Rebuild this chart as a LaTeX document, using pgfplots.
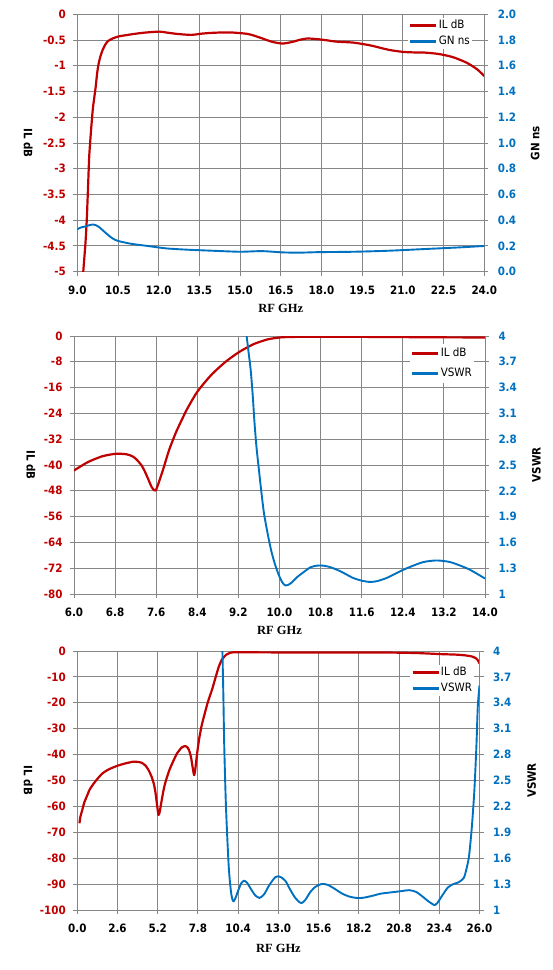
\documentclass[border=0pt]{standalone}
\usepackage{fontspec}
\setmainfont{DejaVu Sans Condensed}
\newfontfamily\rffont{Liberation Serif}
\usepackage{pgfplots}
\pgfplotsset{compat=1.18}
\definecolor{ilred}{HTML}{C00000}
\definecolor{gnblue}{HTML}{0070C0}
\definecolor{gridgray}{HTML}{868686}
\newcommand\fs{\fontsize{11.5}{13}\selectfont}
\pgfplotsset{
  base/.style={scale only axis, anchor=south west,
    axis line style={gridgray, line width=1pt},
    tick style={gridgray, line width=1pt},
    major tick length=4pt, tick align=outside,
    grid style={gridgray, line width=1pt},
    ticklabel style={font=\fs\bfseries},
    label style={font=\fs\bfseries},
  },
  leftax/.style={base, axis x line*=bottom, axis y line*=left, grid=major,
    yticklabel style={ilred, xshift=-4pt},
    xticklabel style={black, yshift=-6.5pt},
    xlabel={RF GHz}, ylabel={IL dB},
    xlabel style={font=\rffont\fontsize{12.5}{14}\selectfont\bfseries, anchor=center},
  },
  rightax/.style={base, axis x line=none, axis y line*=right,
    yticklabel style={gnblue, xshift=6pt},
    legend style={draw=none, fill=white, inner sep=1pt, anchor=north west,
      font=\fs, cells={anchor=west}, row sep=3pt},
    legend image code/.code={\draw[##1, line width=2.6pt] (0pt,0pt) -- (26pt,0pt);},
  },
  ilstyle/.style={ilred, line width=2.2pt, line join=round, smooth, tension=0.4},
  gnstyle/.style={gnblue, line width=1.9pt, line join=round, smooth, tension=0.4},
}
\begin{document}
\begin{tikzpicture}
\path[use as bounding box] (0,0) rectangle (553pt,-970pt);
% ---------- Panel 1 ----------
\begin{axis}[leftax, at={(77.3pt,-271.7pt)}, width=407pt, height=257.4pt,
  xmin=9, xmax=24, ymin=-5, ymax=0,
  xtick={9,10.5,12,13.5,15,16.5,18,19.5,21,22.5,24},
  xticklabels={9.0,10.5,12.0,13.5,15.0,16.5,18.0,19.5,21.0,22.5,24.0},
  ytick={-5,-4.5,-4,-3.5,-3,-2.5,-2,-1.5,-1,-0.5,0},
  yticklabels={-5,-4.5,-4,-3.5,-3,-2.5,-2,-1.5,-1,-0.5,0},
  xlabel style={at={(axis description cs:0.5,-0.144)}},
  ylabel style={at={(axis description cs:-0.121,0.5)}, anchor=center, rotate=180},
]
\addplot[ilstyle] coordinates {(9.20,-5.3) (9.22,-5.0) (9.30,-4.45) (9.35,-3.98) (9.40,-3.3) (9.44,-2.75) (9.50,-2.3) (9.57,-1.85) (9.63,-1.6) (9.68,-1.40) (9.73,-1.15) (9.78,-0.975) (9.85,-0.82) (9.94,-0.685) (10.03,-0.59) (10.13,-0.52) (10.3,-0.47) (10.52,-0.43) (10.8,-0.405) (11.11,-0.38) (11.5,-0.355) (12.02,-0.336) (12.3,-0.355) (12.67,-0.38) (13.19,-0.40) (13.6,-0.375) (13.97,-0.36) (14.4,-0.352) (14.75,-0.355) (15.27,-0.38) (15.55,-0.42) (15.80,-0.465) (16.19,-0.536) (16.58,-0.568) (16.97,-0.53) (17.2,-0.495) (17.49,-0.47) (17.88,-0.484) (18.2,-0.505) (18.53,-0.53) (19.18,-0.55) (19.83,-0.607) (20.48,-0.69) (21.0,-0.73) (21.4,-0.74) (21.79,-0.743) (22.31,-0.77) (22.83,-0.83) (23.35,-0.94) (23.74,-1.07) (24.0,-1.20)};
\end{axis}
\begin{axis}[rightax, at={(77.3pt,-271.7pt)}, width=407pt, height=257.4pt,
  xmin=9, xmax=24, ymin=0, ymax=2,
  ytick={0,0.2,0.4,0.6,0.8,1,1.2,1.4,1.6,1.8,2},
  yticklabels={0.0,0.2,0.4,0.6,0.8,1.0,1.2,1.4,1.6,1.8,2.0},
  ylabel={GN ns},
  ylabel style={at={(axis description cs:1.125,0.5)}, anchor=center},
  legend style={at={(axis description cs:0.8125,0.986)},
    nodes={inner sep=1pt, text height=8.5pt, text depth=2.5pt}},
]
\addlegendimage{ilred}
\addlegendentry{IL dB}
\addplot[gnstyle] coordinates {(9.0,0.33) (9.15,0.345) (9.29,0.351) (9.45,0.362) (9.57,0.367) (9.7,0.36) (9.81,0.346) (10.0,0.31) (10.2,0.274) (10.35,0.252) (10.52,0.238) (10.98,0.217) (11.63,0.199) (12.28,0.181) (13.06,0.171) (13.97,0.163) (15.0,0.155) (15.8,0.160) (16.58,0.150) (17.2,0.148) (17.88,0.152) (19.18,0.155) (20.48,0.163) (21.79,0.176) (23.09,0.189) (24.0,0.2)};
\addlegendentry{GN ns}
\end{axis}
% ---------- Panel 2 ----------
\begin{axis}[leftax, at={(74pt,-594pt)}, width=411pt, height=258pt,
  xmin=6, xmax=14, ymin=-80, ymax=0,
  xtick={6,6.8,7.6,8.4,9.2,10,10.8,11.6,12.4,13.2,14},
  xticklabels={6.0,6.8,7.6,8.4,9.2,10.0,10.8,11.6,12.4,13.2,14.0},
  ytick={-80,-72,-64,-56,-48,-40,-32,-24,-16,-8,0},
  yticklabels={-80,-72,-64,-56,-48,-40,-32,-24,-16,-8,0},
  xlabel style={at={(axis description cs:0.5,-0.14)}},
  ylabel style={at={(axis description cs:-0.105,0.5)}, anchor=center, rotate=180},
]
\addplot[ilstyle] coordinates {(6.0,-41.7) (6.27,-39.1) (6.55,-37.3) (6.82,-36.5) (7.03,-36.7) (7.15,-37.4) (7.23,-38.5) (7.31,-40.0) (7.37,-41.7) (7.44,-44.2) (7.51,-46.8) (7.56,-47.8) (7.59,-47.9) (7.62,-46.8) (7.67,-44.5) (7.75,-40.6) (7.85,-35.4) (7.99,-29.7) (8.19,-23.0) (8.40,-17.3) (8.67,-12.1) (8.95,-8.0) (9.22,-4.9) (9.50,-2.5) (9.77,-1.04) (10.04,-0.4) (10.4,-0.25) (10.73,-0.2) (12,-0.3) (13,-0.4) (14.0,-0.45)};
\end{axis}
\begin{axis}[rightax, at={(74pt,-594pt)}, width=411pt, height=258pt,
  xmin=6, xmax=14, ymin=1, ymax=4,
  ytick={1,1.3,1.6,1.9,2.2,2.5,2.8,3.1,3.4,3.7,4},
  yticklabels={1,1.3,1.6,1.9,2.2,2.5,2.8,3.1,3.4,3.7,4},
  ylabel={VSWR},
  ylabel style={at={(axis description cs:1.125,0.5)}, anchor=center},
  legend style={at={(axis description cs:0.8175,0.970)},
    nodes={inner sep=1pt, text height=10.5pt, text depth=4.5pt}},
]
\addlegendimage{ilred}
\addlegendentry{IL dB}
\addplot[gnstyle] coordinates {(9.34,4.1) (9.36,4.0) (9.40,3.80) (9.44,3.60) (9.48,3.30) (9.51,3.02) (9.55,2.72) (9.60,2.44) (9.65,2.17) (9.70,1.93) (9.77,1.70) (9.84,1.50) (9.91,1.35) (9.98,1.23) (10.05,1.14) (10.11,1.10) (10.18,1.11) (10.25,1.14) (10.35,1.20) (10.46,1.25) (10.6,1.31) (10.73,1.33) (10.85,1.33) (11.0,1.31) (11.2,1.26) (11.42,1.19) (11.6,1.155) (11.76,1.14) (11.9,1.15) (12.1,1.19) (12.44,1.29) (12.79,1.37) (13.06,1.39) (13.33,1.37) (13.68,1.29) (14.0,1.18)};
\addlegendentry{VSWR}
\end{axis}
% ---------- Panel 3 ----------
\begin{axis}[leftax, at={(77.3pt,-910pt)}, width=402.2pt, height=259pt,
  xmin=0, xmax=26, ymin=-100, ymax=0,
  xtick={0,2.6,5.2,7.8,10.4,13,15.6,18.2,20.8,23.4,26},
  xticklabels={0.0,2.6,5.2,7.8,10.4,13.0,15.6,18.2,20.8,23.4,26.0},
  ytick={-100,-90,-80,-70,-60,-50,-40,-30,-20,-10,0},
  yticklabels={-100,-90,-80,-70,-60,-50,-40,-30,-20,-10,0},
  xlabel style={at={(axis description cs:0.5,-0.147)}},
  ylabel style={at={(axis description cs:-0.122,0.5)}, anchor=center, rotate=180},
]
\addplot[ilstyle] coordinates {(0.14,-66.5) (0.2,-64) (0.32,-61.4) (0.45,-58.5) (0.61,-56.2) (0.8,-53.5) (1.07,-51.1) (1.35,-49) (1.64,-47.2) (2.0,-45.8) (2.55,-44.4) (3.1,-43.4) (3.69,-42.7) (4.14,-43.1) (4.40,-44.2) (4.60,-45.9) (4.80,-48.5) (4.94,-51.1) (5.05,-54.5) (5.17,-60.1) (5.25,-63.3) (5.33,-62) (5.46,-57.5) (5.60,-53) (5.74,-49.8) (5.95,-46) (6.19,-42.7) (6.45,-39.5) (6.76,-37.2) (6.99,-36.7) (7.12,-37.2) (7.22,-38.2) (7.35,-41) (7.45,-44.7) (7.55,-47.9) (7.62,-46) (7.67,-43.4) (7.78,-38) (7.90,-33.1) (8.05,-28.5) (8.24,-24.1) (8.45,-19.5) (8.70,-15.1) (8.90,-11) (9.15,-6.0) (9.35,-3.3) (9.61,-1.5) (9.8,-0.9) (10.06,-0.5) (10.97,-0.5) (15.5,-0.6) (20.08,-0.6) (22,-0.8) (23.5,-1.2) (24.5,-1.4) (25.1,-1.7) (25.5,-2.1) (25.77,-2.8) (25.9,-3.6) (26.0,-4.8)};
\end{axis}
\begin{axis}[rightax, at={(77.3pt,-910pt)}, width=402.2pt, height=259pt,
  xmin=0, xmax=26, ymin=1, ymax=4,
  ytick={1,1.3,1.6,1.9,2.2,2.5,2.8,3.1,3.4,3.7,4},
  yticklabels={1,1.3,1.6,1.9,2.2,2.5,2.8,3.1,3.4,3.7,4},
  ylabel={VSWR},
  ylabel style={at={(axis description cs:1.13,0.5)}, anchor=center},
  legend style={at={(axis description cs:0.8276,0.947)},
    nodes={inner sep=1pt, text height=8.5pt, text depth=2.5pt}},
]
\addlegendimage{ilred}
\addlegendentry{IL dB}
\addplot[gnstyle] coordinates {(9.36,4.1) (9.38,4.0) (9.44,3.5) (9.49,2.97) (9.55,2.55) (9.61,2.20) (9.70,1.82) (9.79,1.50) (9.87,1.32) (9.95,1.19) (10.03,1.12) (10.11,1.10) (10.25,1.15) (10.41,1.23) (10.6,1.31) (10.79,1.34) (11.0,1.31) (11.20,1.25) (11.5,1.17) (11.77,1.14) (11.95,1.16) (12.11,1.19) (12.35,1.27) (12.57,1.33) (12.8,1.38) (13.02,1.39) (13.25,1.37) (13.48,1.33) (13.75,1.24) (14.05,1.15) (14.3,1.10) (14.50,1.08) (14.75,1.12) (15.07,1.21) (15.4,1.27) (15.76,1.30) (16.0,1.30) (16.21,1.29) (16.6,1.25) (17.12,1.19) (17.6,1.155) (18.03,1.14) (18.4,1.14) (18.72,1.15) (19.2,1.17) (19.63,1.19) (20.54,1.21) (21.0,1.22) (21.45,1.23) (21.9,1.21) (22.36,1.15) (22.7,1.10) (23.04,1.06) (23.15,1.06) (23.27,1.08) (23.6,1.17) (23.95,1.26) (24.3,1.30) (24.64,1.32) (24.98,1.37) (25.15,1.47) (25.32,1.62) (25.5,1.95) (25.67,2.39) (25.8,2.9) (25.89,3.36) (26.0,3.6)};
\addlegendentry{VSWR}
\end{axis}
\end{tikzpicture}
\end{document}
